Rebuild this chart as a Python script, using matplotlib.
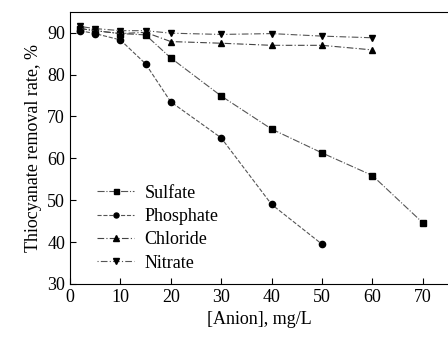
import matplotlib.pyplot as plt

# concentrations, mg/L
x_sulfate = [2, 5, 10, 15, 20, 30, 40, 50, 60, 70]
sulfate = [91.0, 90.5, 89.8, 89.5, 84.0, 74.9, 67.0, 61.3, 55.9, 44.6]
x_phosphate = [2, 5, 10, 15, 20, 30, 40, 50]
phosphate = [90.5, 89.8, 88.3, 82.6, 73.5, 64.9, 49.0, 39.5]
x_other = [2, 5, 10, 15, 20, 30, 40, 50, 60]
chloride = [91.0, 90.5, 89.8, 90.1, 87.9, 87.5, 87.0, 87.0, 85.9]
nitrate = [91.5, 91.0, 90.5, 90.5, 89.9, 89.6, 89.8, 89.2, 88.8]


def main():
    plt.rcParams['font.family'] = ['Liberation Serif', 'DejaVu Serif']
    fig = plt.figure(figsize=(4.48, 3.38), dpi=100)
    ax = fig.add_axes([0.156, 0.16, 0.844, 0.805])

    ax.plot(x_sulfate, sulfate, color='#555555', ls='-.', lw=0.8,
            marker='s', ms=4.5, mfc='black', mec='black', label='Sulfate')
    ax.plot(x_phosphate, phosphate, color='#555555', ls='--', lw=0.8,
            marker='o', ms=4.5, mfc='black', mec='black', label='Phosphate')
    ax.plot(x_other, chloride, color='#444444', ls=(0, (6, 2, 1, 2)), lw=0.8,
            marker='^', ms=5, mfc='black', mec='black', label='Chloride')
    ax.plot(x_other, nitrate, color='#555555', ls=(0, (1, 2, 6, 2)), lw=0.8,
            marker='v', ms=5, mfc='black', mec='black', label='Nitrate')

    ax.set_xlim(0, 75)
    ax.set_ylim(30, 95)
    ax.set_xticks(range(0, 80, 10))
    ax.set_yticks(range(30, 100, 10))
    ax.tick_params(direction='in', labelsize=13, length=4)
    ax.spines['right'].set_visible(False)
    ax.set_xlabel('[Anion], mg/L', fontsize=13)
    ax.set_ylabel('Thiocyanate removal rate, %', fontsize=13)

    ax.legend(loc='lower left', bbox_to_anchor=(0.03, -0.015), frameon=False,
              fontsize=13, handlelength=2.0, labelspacing=0.35,
              handletextpad=0.6, markerscale=0.8)

    fig.savefig('out.png', dpi=100)


if __name__ == '__main__':
    main()
